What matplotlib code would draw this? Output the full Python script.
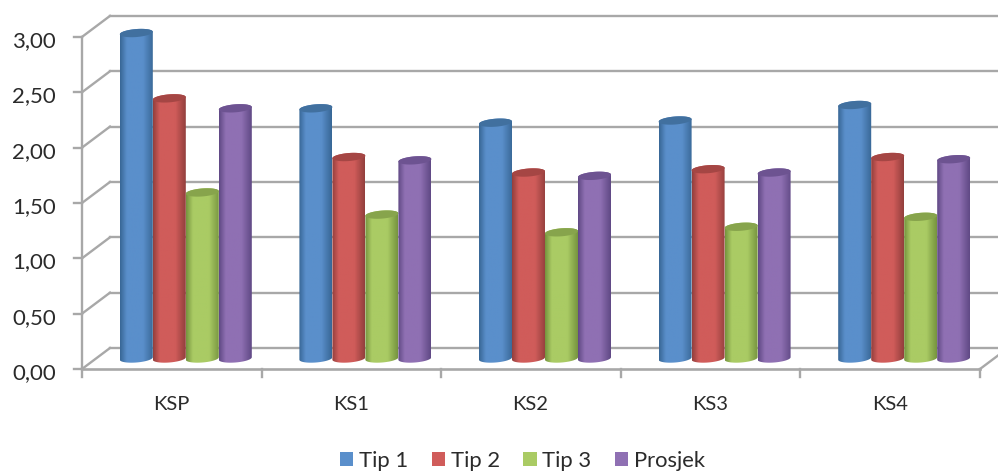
import numpy as np
import matplotlib
matplotlib.use("Agg")
import matplotlib.pyplot as plt
from matplotlib.colors import LinearSegmentedColormap
from matplotlib.patches import Patch, PathPatch, Polygon
from matplotlib.path import Path

categories = ["KSP", "KS1", "KS2", "KS3", "KS4"]
series_names = ["Tip 1", "Tip 2", "Tip 3", "Prosjek"]
tip1 = [2.94, 2.26, 2.13, 2.15, 2.29]
tip2 = [2.35, 1.82, 1.68, 1.71, 1.82]
tip3 = [1.50, 1.30, 1.14, 1.19, 1.28]
prosjek = [2.26, 1.79, 1.65, 1.68, 1.80]
y_ticks = [0.0, 0.5, 1.0, 1.5, 2.0, 2.5, 3.0]
y_tick_labels = ["0,00", "0,50", "1,00", "1,50", "2,00", "2,50", "3,00"]

base_colors = ["#5a8fcb", "#d05c5a", "#aacb64", "#8f70b3"]
edge_colors = ["#386796", "#933f3d", "#76943f", "#604985"]
top_colors = ["#41709f", "#a54644", "#87a44c", "#6d5391"]
grid_color = "#a8a8a8"
text_color = "#2b2b2b"

W, H = 998, 472
fig = plt.figure(figsize=(W / 100, H / 100), dpi=100)
ax = fig.add_axes([0, 0, 1, 1])

# Plot-space scales: one category is 179.6 px wide, one value unit 110.7 px tall.
px_x = 179.6
px_y = 110.7
ax.set_xlim(-82 / px_x, (W - 82) / px_x)
ax.set_ylim(-(H - 369) / px_y, 369 / px_y)
ax.axis("off")

depth_x = 28 / px_x
depth_y = 21 / px_y
n_cat = len(categories)

# Back wall gridlines and the slanted side-wall lines
for v, label in zip(y_ticks, y_tick_labels):
    ax.plot([0, depth_x], [v, v + depth_y], color=grid_color, lw=1.7, zorder=1)
    ax.plot([depth_x, n_cat + 0.2], [v + depth_y, v + depth_y], color=grid_color, lw=1.7, zorder=1)
    ax.plot([-8 / px_x, 0], [v, v], color=grid_color, lw=1.7, zorder=2)
    ax.text(-26 / px_x, v - 2 / px_y, label, ha="right", va="center_baseline",
            fontsize=16, family="Lato", color=text_color)

# Front axis lines, category ticks and the floor's right edge
ax.plot([0, 0], [0, 3.0], color=grid_color, lw=1.7, zorder=2)
ax.plot([0, n_cat], [0, 0], color=grid_color, lw=1.9, zorder=2)
ax.plot([n_cat, n_cat + depth_x], [0, depth_y], color=grid_color, lw=1.7, zorder=2)
for i in range(n_cat + 1):
    ax.plot([i, i], [0, -8 / px_y], color=grid_color, lw=1.7, zorder=2)
for i, name in enumerate(categories):
    ax.text(i + 0.497, -34 / px_y, name, ha="center", va="center_baseline",
            fontsize=14.5, family="Lato", color=text_color)

# Cylinders, with the end caps tilted slightly up to the right
bar_w = 33 / px_x
ell_h = 8.0 / px_y
tilt = 2.5 / px_y
base_y = depth_y / 2
shift_x = depth_x / 2


def cap_points(xc, yc, t):
    a, b = bar_w / 2, ell_h / 2
    return np.column_stack([xc + a * np.cos(t),
                            yc + b * np.sin(t) + tilt * np.cos(t) / 2])


def cylinder(xc, value, base, edge, top, z):
    x0, x1 = xc - bar_w / 2, xc + bar_w / 2
    y0 = base_y
    y1 = base_y + value
    pad = ell_h
    lower = cap_points(xc, y0, np.linspace(np.pi, 2 * np.pi, 40))
    upper = cap_points(xc, y1, np.linspace(0, np.pi, 40))
    body = np.vstack([lower, upper, lower[:1]])
    cmap = LinearSegmentedColormap.from_list(
        "c", [(0, edge), (0.2, base), (0.68, base), (1, edge)])
    img = ax.imshow(np.linspace(0, 1, 64)[None, :], cmap=cmap, aspect="auto",
                    extent=[x0, x1, y0 - pad, y1 + pad], zorder=z, interpolation="bilinear")
    clip = PathPatch(Path(body), transform=ax.transData, fc="none", ec="none")
    ax.add_patch(clip)
    img.set_clip_path(clip)
    cap = cap_points(xc, y1, np.linspace(0, 2 * np.pi, 60))
    ax.add_patch(Polygon(cap, closed=True, fc=top, ec="none", zorder=z + 0.1))


all_series = [tip1, tip2, tip3, prosjek]
for s, values in enumerate(all_series):
    for i, v in enumerate(values):
        xc = i + 0.5 + shift_x + (s - 1.5) * bar_w
        cylinder(xc, v, base_colors[s], edge_colors[s], top_colors[s], 3 + s)

ax.set_xlim(-82 / px_x, (W - 82) / px_x)
ax.set_ylim(-(H - 369) / px_y, 369 / px_y)

handles = [Patch(fc=c, ec="none") for c in base_colors]
ax.legend(handles, series_names, ncol=4, loc="center", frameon=False,
          bbox_to_anchor=(522.5 / W, 1 - 461 / H), bbox_transform=fig.transFigure,
          prop={"family": "Lato", "size": 15.8}, labelcolor=text_color,
          handlelength=0.6, handleheight=0.6, handletextpad=0.26, columnspacing=1.08,
          borderpad=0, borderaxespad=0)

fig.savefig("out.png", dpi=100)
